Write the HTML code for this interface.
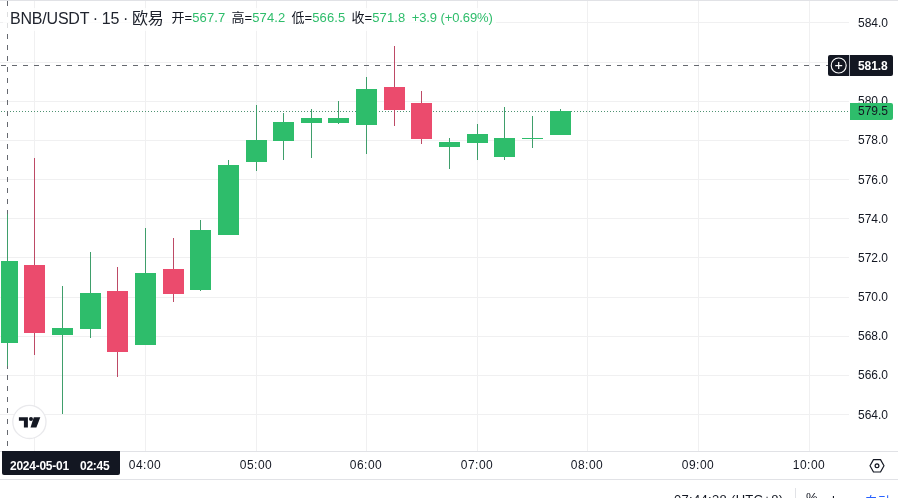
<!DOCTYPE html>
<html lang="zh-CN">
<head>
<meta charset="utf-8">
<title>BNB/USDT</title>
<style>
html,body{margin:0;padding:0;background:#fff;}
body{width:898px;height:498px;overflow:hidden;position:relative;font-family:"Liberation Sans","Noto Sans CJK SC",sans-serif;color:#131722;}
#root{position:absolute;left:0;top:0;width:898px;height:498px;overflow:hidden;background:#fff;}
i{position:absolute;display:block;}
.hg{left:0;width:849px;height:1px;background:#f0f0f1;}
.vg{top:1px;width:1px;height:450px;background:#f0f0f1;}
.w{width:1px;}
.b{width:21px;}
.pl{position:absolute;left:850px;width:48px;text-align:left;padding-left:8px;box-sizing:border-box;font-size:12px;line-height:14px;height:14px;color:#131722;white-space:nowrap;}
.tl{position:absolute;top:458px;letter-spacing:0.5px;width:60px;text-align:center;font-size:12px;line-height:14px;color:#131722;white-space:nowrap;}
#legend{position:absolute;left:10px;top:8px;height:20px;line-height:20px;white-space:nowrap;}
#title{font-size:16px;color:#20242e;letter-spacing:-0.2px;word-spacing:-0.4px;position:relative;top:1px;}
#ohlc{font-size:13px;margin-left:4px;color:#131722;letter-spacing:0.12px;position:relative;top:-1px;}
#ohlc b{font-weight:normal;color:#2ebd6b;}
#ohlc span{display:inline-block;width:60px;}
#ohlc .chg{letter-spacing:-0.1px;margin-left:0.3px;}
svg{position:absolute;left:0;top:0;}
#xh{position:absolute;left:828px;top:55px;width:65px;height:21px;background:#131722;border-radius:2px;}
#xh .t{position:absolute;left:30px;top:1px;width:35px;text-align:left;color:#fff;font-weight:bold;font-size:12px;line-height:21px;letter-spacing:-0.1px;}
#pr{position:absolute;left:850px;top:103px;width:43px;height:17px;background:#2ebd6b;border-radius:0 2px 2px 0;color:#131722;font-size:12px;line-height:17px;text-align:left;padding-left:8px;box-sizing:border-box;}
#tx{position:absolute;left:2px;top:451px;width:118px;height:24px;background:#131722;border-radius:0 0 2px 2px;color:#fff;font-weight:bold;font-size:12px;}
#tx span{position:absolute;top:8px;line-height:14px;white-space:nowrap;letter-spacing:-0.25px;}
#bt{position:absolute;left:0;top:480px;width:898px;height:18px;}
#bt span{position:absolute;top:11px;font-size:13px;line-height:16px;white-space:nowrap;color:#131722;}
</style>
</head>
<body>
<div id="root">
<i style="left:0;top:0;width:898px;height:1px;background:#e1e2e6"></i>
<i class="hg" style="top:22px"></i>
<i class="hg" style="top:62px"></i>
<i class="hg" style="top:101px"></i>
<i class="hg" style="top:140px"></i>
<i class="hg" style="top:179px"></i>
<i class="hg" style="top:218px"></i>
<i class="hg" style="top:257px"></i>
<i class="hg" style="top:297px"></i>
<i class="hg" style="top:336px"></i>
<i class="hg" style="top:375px"></i>
<i class="hg" style="top:414px"></i>
<i class="vg" style="left:34px"></i>
<i class="vg" style="left:145px"></i>
<i class="vg" style="left:256px"></i>
<i class="vg" style="left:366px"></i>
<i class="vg" style="left:477px"></i>
<i class="vg" style="left:587px"></i>
<i class="vg" style="left:698px"></i>
<i class="vg" style="left:809px"></i>
<svg width="898" height="498" viewBox="0 0 898 498">
<line x1="1" y1="111.5" x2="850" y2="111.5" stroke="#4f9272" stroke-width="1" stroke-dasharray="1 2" shape-rendering="crispEdges"/>
<line x1="1" y1="65.5" x2="828" y2="65.5" stroke="#666970" stroke-width="1" stroke-dasharray="5 6" shape-rendering="crispEdges"/>
<line x1="7.5" y1="1" x2="7.5" y2="451" stroke="#666970" stroke-width="1" stroke-dasharray="5 6" shape-rendering="crispEdges"/>
</svg>
<i class="w" style="left:7px;top:214px;height:152px;background:#3f9e6b"></i>
<i class="b" style="left:1px;width:17px;top:261px;height:82px;background:#2ebd6b"></i>
<i class="w" style="left:34px;top:158px;height:197px;background:#bd4a66"></i>
<i class="b" style="left:24px;top:265px;height:68px;background:#eb4b6d"></i>
<i class="w" style="left:62px;top:286px;height:128px;background:#3f9e6b"></i>
<i class="b" style="left:52px;top:328px;height:7px;background:#2ebd6b"></i>
<i class="w" style="left:90px;top:252px;height:86px;background:#3f9e6b"></i>
<i class="b" style="left:80px;top:293px;height:36px;background:#2ebd6b"></i>
<i class="w" style="left:117px;top:267px;height:110px;background:#bd4a66"></i>
<i class="b" style="left:107px;top:291px;height:61px;background:#eb4b6d"></i>
<i class="w" style="left:145px;top:228px;height:117px;background:#3f9e6b"></i>
<i class="b" style="left:135px;top:273px;height:72px;background:#2ebd6b"></i>
<i class="w" style="left:173px;top:238px;height:64px;background:#bd4a66"></i>
<i class="b" style="left:163px;top:269px;height:25px;background:#eb4b6d"></i>
<i class="w" style="left:200px;top:220px;height:71px;background:#3f9e6b"></i>
<i class="b" style="left:190px;top:230px;height:60px;background:#2ebd6b"></i>
<i class="w" style="left:228px;top:160px;height:75px;background:#3f9e6b"></i>
<i class="b" style="left:218px;top:165px;height:70px;background:#2ebd6b"></i>
<i class="w" style="left:256px;top:105px;height:66px;background:#3f9e6b"></i>
<i class="b" style="left:246px;top:140px;height:22px;background:#2ebd6b"></i>
<i class="w" style="left:283px;top:113px;height:47px;background:#3f9e6b"></i>
<i class="b" style="left:273px;top:122px;height:19px;background:#2ebd6b"></i>
<i class="w" style="left:311px;top:109px;height:49px;background:#3f9e6b"></i>
<i class="b" style="left:301px;top:118px;height:5px;background:#2ebd6b"></i>
<i class="w" style="left:338px;top:101px;height:23px;background:#3f9e6b"></i>
<i class="b" style="left:328px;top:118px;height:5px;background:#2ebd6b"></i>
<i class="w" style="left:366px;top:77px;height:77px;background:#3f9e6b"></i>
<i class="b" style="left:356px;top:89px;height:36px;background:#2ebd6b"></i>
<i class="w" style="left:394px;top:46px;height:80px;background:#bd4a66"></i>
<i class="b" style="left:384px;top:87px;height:23px;background:#eb4b6d"></i>
<i class="w" style="left:421px;top:91px;height:53px;background:#bd4a66"></i>
<i class="b" style="left:411px;top:103px;height:36px;background:#eb4b6d"></i>
<i class="w" style="left:449px;top:138px;height:31px;background:#3f9e6b"></i>
<i class="b" style="left:439px;top:142px;height:5px;background:#2ebd6b"></i>
<i class="w" style="left:477px;top:124px;height:36px;background:#3f9e6b"></i>
<i class="b" style="left:467px;top:134px;height:9px;background:#2ebd6b"></i>
<i class="w" style="left:504px;top:107px;height:53px;background:#3f9e6b"></i>
<i class="b" style="left:494px;top:138px;height:19px;background:#2ebd6b"></i>
<i class="w" style="left:532px;top:116px;height:32px;background:#3f9e6b"></i>
<i class="b" style="left:522px;top:138px;height:1px;background:#2ebd6b"></i>
<i class="w" style="left:560px;top:109px;height:26px;background:#3f9e6b"></i>
<i class="b" style="left:550px;top:111px;height:24px;background:#2ebd6b"></i>
<svg width="898" height="498" viewBox="0 0 898 498">
<circle cx="29.4" cy="421.9" r="16.6" fill="#fff" stroke="#e9e9ec" stroke-width="1.3"/>
<g fill="#131722">
<path d="M18.9 417.2H27.9V427.6H23.9V420.7H18.9Z"/>
<circle cx="31" cy="418.9" r="2"/>
<path d="M33.8 417.2H40.3L36.4 427.6H30.5Z"/>
</g>
<g fill="none" stroke="#131722" stroke-width="1.2" transform="translate(877,465.8)">
<path d="M-3.5 -6.2H3.5L7 0L3.5 6.2H-3.5L-7 0Z" stroke-linejoin="round"/>
<circle cx="0" cy="0" r="1.9"/>
</g>
</svg>
<i style="left:0;top:451px;width:898px;height:1px;background:#e1e2e6"></i>
<i style="left:0;top:479px;width:898px;height:1px;background:#e1e2e6"></i>
<span class="pl" style="top:16px">584.0</span>
<span class="pl" style="top:94px">580.0</span>
<span class="pl" style="top:133px">578.0</span>
<span class="pl" style="top:173px">576.0</span>
<span class="pl" style="top:212px">574.0</span>
<span class="pl" style="top:251px">572.0</span>
<span class="pl" style="top:290px">570.0</span>
<span class="pl" style="top:329px">568.0</span>
<span class="pl" style="top:368px">566.0</span>
<span class="pl" style="top:408px">564.0</span>
<span class="tl" style="left:115px">04:00</span>
<span class="tl" style="left:226px">05:00</span>
<span class="tl" style="left:336px">06:00</span>
<span class="tl" style="left:447px">07:00</span>
<span class="tl" style="left:557px">08:00</span>
<span class="tl" style="left:668px">09:00</span>
<span class="tl" style="left:779px">10:00</span>
<i style="left:3px;top:8px;width:493px;height:23px;background:rgba(255,255,255,0.78)"></i>
<div id="legend"><span id="title">BNB/USDT · 15 · 欧易</span><span id="ohlc"> <span>开=<b>567.7</b></span><span>高=<b>574.2</b></span><span>低=<b>566.5</b></span><span>收=<b>571.8</b></span><b class="chg">+3.9 (+0.69%)</b></span></div>
<div id="xh"><svg width="22" height="21" viewBox="0 0 22 21"><circle cx="10.7" cy="10.5" r="7.5" fill="none" stroke="#fff" stroke-width="1.1"/><path d="M7.2 10.6H14.2M10.7 7.1V14.1" stroke="#fff" stroke-width="1.2" fill="none"/></svg><i style="left:21px;top:0;width:1px;height:21px;background:#b2b5be"></i><div class="t">581.8</div></div>
<div id="pr">579.5</div>
<div id="tx"><span style="left:8px">2024-05-01</span><span style="left:78px">02:45</span></div>
<div id="bt">
<span id="clk" style="left:674px;top:12px;letter-spacing:0.31px">07:44:38 (UTC+8)</span>
<i style="left:795px;top:8px;width:1px;height:12px;background:#e1e2e6"></i>
<span style="left:806px;top:10px">%</span>
<span style="left:832px;top:13px;letter-spacing:0.8px">log</span>
<span style="left:864px;top:14px;color:#2962ff;font-size:14px">自动</span>
</div>
</div>
</body>
</html>
